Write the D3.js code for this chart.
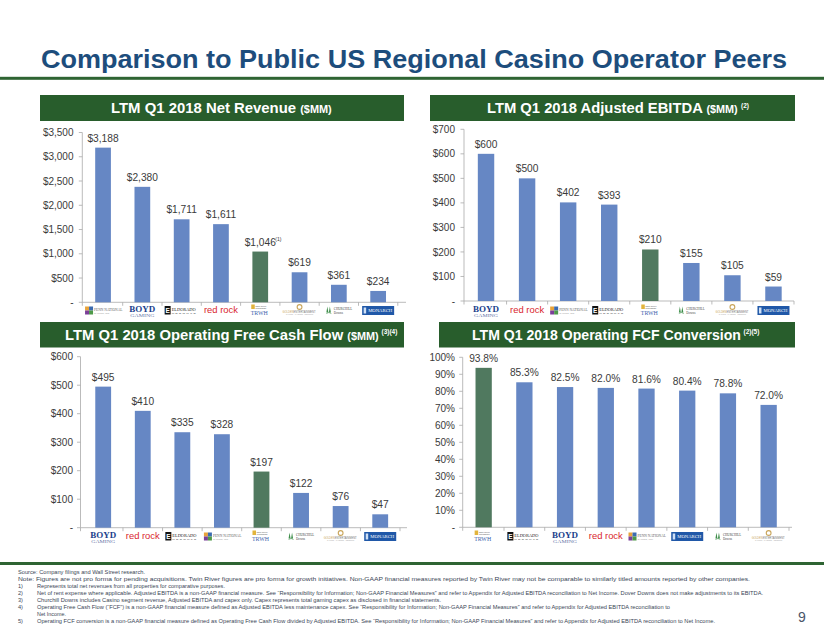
<!DOCTYPE html>
<html><head><meta charset="utf-8">
<script src="https://cdn.jsdelivr.net/npm/d3@7"></script>
<style>
html,body{margin:0;padding:0;background:#fff;}
svg{display:block;font-family:"Liberation Sans",Arial,sans-serif;}
</style></head>
<body>
<svg id="c" width="824" height="637"></svg>
<script>
// ---------- DATA ----------
const revCompanies = ["penn","boyd","eldorado","redrock","trwh","golden","churchill","monarch"];
const revValues    = [3188, 2380, 1711, 1611, 1046, 619, 361, 234];
const revTicks     = [0,500,1000,1500,2000,2500,3000,3500];
const revTickLabels= ["-","$500","$1,000","$1,500","$2,000","$2,500","$3,000","$3,500"];

const ebitdaCompanies = ["boyd","redrock","penn","eldorado","trwh","churchill","golden","monarch"];
const ebitdaValues    = [600, 500, 402, 393, 210, 155, 105, 59];
const ebitdaTicks     = [0,100,200,300,400,500,600,700];
const ebitdaTickLabels= ["-","$100","$200","$300","$400","$500","$600","$700"];

const fcfCompanies = ["boyd","redrock","eldorado","penn","trwh","churchill","golden","monarch"];
const fcfValues    = [495, 410, 335, 328, 197, 122, 76, 47];
const fcfTicks     = [0,100,200,300,400,500,600];
const fcfTickLabels= ["-","$100","$200","$300","$400","$500","$600"];

const convCompanies = ["trwh","eldorado","boyd","redrock","penn","monarch","churchill","golden"];
const convValues    = [93.8, 85.3, 82.5, 82.0, 81.6, 80.4, 78.8, 72.0];
const convTicks     = [0,10,20,30,40,50,60,70,80,90,100];
const convTickLabels= ["-","10%","20%","30%","40%","50%","60%","70%","80%","90%","100%"];

const footnotes = [
 ["", "Source: Company filings and Wall Street research."],
 ["", "Note: Figures are not pro forma for pending acquisitions. Twin River figures are pro forma for growth initiatives. Non-GAAP financial measures reported by Twin River may not be comparable to similarly titled amounts reported by other companies."],
 ["1)", "Represents total net revenues from all properties for comparative purposes."],
 ["2)", "Net of rent expense where applicable. Adjusted EBITDA is a non-GAAP financial measure. See \u201cResponsibility for Information; Non-GAAP Financial Measures\u201d and refer to Appendix for Adjusted EBITDA reconciliation to Net Income. Dover Downs does not make adjustments to its EBITDA."],
 ["3)", "Churchill Downs includes Casino segment revenue, Adjusted EBITDA and capex only. Capex represents total gaming capex as disclosed in financial statements."],
 ["4)", "Operating Free Cash Flow (\u201cFCF\u201d)   is a non-GAAP financial measure defined as Adjusted EBITDA less maintenance capex. See \u201cResponsibility for Information; Non-GAAP Financial Measures\u201d and refer to Appendix for Adjusted EBITDA reconciliation to"],
 ["", "Net Income."],
 ["5)", "Operating FCF conversion is a non-GAAP financial measure defined as Operating Free Cash Flow divided by Adjusted EBITDA. See \u201cResponsibility for Information; Non-GAAP Financial Measures\u201d and refer to Appendix for Adjusted EBITDA reconciliation to Net Income."]
];
const footnoteEnds = [145, 750, 225, 763, 441, 670, 66, 715];

// ---------- STYLE ----------
const BLUE = "#6687C4", GREEN_BAR = "#50795F", HEAD = "#285D2C", TITLE = "#1D4D7C", AXIS = "#A9A9A9", TXT = "#3a3a3a";

const svg = d3.select("#c");

// Title
svg.append("text").attr("x", 41).attr("y", 68)
  .attr("font-size", 25.5).attr("font-weight", "bold").attr("fill", TITLE)
  .attr("textLength", 746).attr("lengthAdjust", "spacingAndGlyphs")
  .text("Comparison to Public US Regional Casino Operator Peers");
svg.append("rect").attr("x", 0).attr("y", 76.8).attr("width", 824).attr("height", 3).attr("fill", "#2E6433");
svg.append("rect").attr("x", 0).attr("y", 562).attr("width", 824).attr("height", 3).attr("fill", "#2E6433");

// Headers (text scaled horizontally to the reference width)
function header(x, y, w, h, parts, tx, tlen, sup) {
  svg.append("rect").attr("x", x).attr("y", y).attr("width", w).attr("height", h).attr("fill", HEAD);
  const g = svg.append("g");
  const t = g.append("text").attr("x", 0).attr("y", 0).attr("fill", "#fff").attr("font-weight", "bold");
  parts.forEach(p => t.append("tspan").attr("font-size", p.size).text(p.t));
  const nat = t.node().getComputedTextLength();
  const k = tlen / nat;
  g.attr("transform", `translate(${tx},${y + h/2 + 5}) scale(${k},1)`);
  if (sup) svg.append("text").attr("x", sup.x).attr("y", y + h/2 - 0.5).attr("fill", "#fff")
    .attr("font-weight", "bold").attr("font-size", 6.5).text(sup.t);
}
header(40, 95, 364, 26, [{t:"LTM Q1 2018 Net Revenue ",size:15},{t:"($MM)",size:11}], 111, 221);
header(430, 95, 365, 26, [{t:"LTM Q1 2018 Adjusted EBITDA ",size:15},{t:"($MM)",size:11}], 487, 251, {x:741, t:"(2)"});
header(40, 322, 364, 25.5, [{t:"LTM Q1 2018 Operating Free Cash Flow ",size:15},{t:"($MM)",size:11}], 65, 314, {x:381.5, t:"(3)(4)"});
header(439, 322, 356, 25.5, [{t:"LTM Q1 2018 Operating FCF Conversion",size:15}], 472, 269, {x:743.5, t:"(2)(5)"});

// Logos (x-axis category labels)
function drawLogo(g, key) {
  const S = "Liberation Serif,Times New Roman,serif";
  if (key === "penn") {
    const cols = ["#E8A33A","#3B6BB0","#7B3F98","#4E9A48"];
    [[0,0],[1,0],[0,1],[1,1]].forEach((c,i)=>g.append("rect").attr("x",-18+c[0]*4).attr("y",-4+c[1]*4).attr("width",4).attr("height",4).attr("fill",cols[i]));
    g.append("text").attr("x",-9).attr("y",0.5).attr("font-size",3.6).attr("fill","#666").attr("font-family",S).text("PENN NATIONAL");
    g.append("text").attr("x",-9).attr("y",3.8).attr("font-size",2.4).attr("fill","#999").text("GAMING, INC.");
  } else if (key === "boyd") {
    g.append("text").attr("x",0).attr("y",1).attr("text-anchor","middle").attr("font-size",9).attr("font-weight","bold").attr("font-family",S).attr("fill","#213F8C").attr("textLength",26).attr("lengthAdjust","spacingAndGlyphs").text("BOYD");
    g.append("text").attr("x",0).attr("y",6.2).attr("text-anchor","middle").attr("font-size",4.6).attr("font-family",S).attr("fill","#6675A8").attr("textLength",24).attr("lengthAdjust","spacingAndGlyphs").text("GAMING");
  } else if (key === "eldorado") {
    g.append("rect").attr("x",-17).attr("y",-4.5).attr("width",6).attr("height",8.5).attr("fill","#111");
    g.append("text").attr("x",-14).attr("y",2.6).attr("text-anchor","middle").attr("font-size",6.5).attr("font-weight","bold").attr("fill","#fff").text("E");
    g.append("text").attr("x",-10).attr("y",0.4).attr("font-size",4.3).attr("font-family",S).attr("fill","#222").attr("textLength",24).attr("lengthAdjust","spacingAndGlyphs").text("ELDORADO");
    g.append("text").attr("x",-10).attr("y",3.8).attr("font-size",2.4).attr("fill","#666").attr("textLength",24).attr("lengthAdjust","spacingAndGlyphs").text("R E S O R T S");
  } else if (key === "redrock") {
    g.append("text").attr("x",0).attr("y",2.8).attr("text-anchor","middle").attr("font-size",9.5).attr("fill","#D9262E").attr("textLength",34).attr("lengthAdjust","spacingAndGlyphs").text("red rock");
  } else if (key === "trwh") {
    g.append("rect").attr("x",-9).attr("y",-6).attr("width",3.5).attr("height",4.5).attr("fill","#E2B43C");
    g.append("text").attr("x",-5).attr("y",-4).attr("font-size",2.4).attr("fill","#555").text("Twin River");
    g.append("text").attr("x",-5).attr("y",-1.6).attr("font-size",2.4).attr("fill","#555").text("Worldwide");
    g.append("text").attr("x",-1).attr("y",4.6).attr("text-anchor","middle").attr("font-size",6.2).attr("font-family",S).attr("fill","#3A62AC").attr("textLength",17).attr("lengthAdjust","spacingAndGlyphs").text("TRWH");
  } else if (key === "golden") {
    g.append("circle").attr("cx",0).attr("cy",-3.5).attr("r",2.4).attr("fill","none").attr("stroke","#C9A55A").attr("stroke-width",1.1);
    g.append("text").attr("x",-17).attr("y",2.2).attr("font-size",2.6).attr("fill","#C9A55A").text("GOLDEN");
    g.append("text").attr("x",-6).attr("y",2.2).attr("font-size",2.8).attr("fill","#777").attr("textLength",22).attr("lengthAdjust","spacingAndGlyphs").text("ENTERTAINMENT");
    g.append("text").attr("x",0).attr("y",4.8).attr("text-anchor","middle").attr("font-size",1.8).attr("fill","#aaa").text("GAMING · TAVERNS · RESORTS");
  } else if (key === "churchill") {
    [-11.5,-9].forEach(x=>g.append("path").attr("d",`M${x},-4 L${x+1},2 L${x-1},2 Z`).attr("fill","#3E8E4A"));
    g.append("path").attr("d","M-12.5,3 Q-10,1 -7.5,3").attr("stroke","#3E8E4A").attr("fill","none").attr("stroke-width",0.6);
    g.append("text").attr("x",-5).attr("y",-0.8).attr("font-size",3.2).attr("font-family",S).attr("fill","#444").text("CHURCHILL");
    g.append("text").attr("x",-5).attr("y",3.2).attr("font-size",3.2).attr("font-family",S).attr("fill","#444").text("Downs");
  } else if (key === "monarch") {
    g.append("rect").attr("x",-16).attr("y",-4.5).attr("width",32).attr("height",9).attr("fill","#2058A8");
    g.append("rect").attr("x",-14.5).attr("y",-3).attr("width",2.5).attr("height",6).attr("fill","#cfe0f5");
    g.append("text").attr("x",2).attr("y",1.6).attr("text-anchor","middle").attr("font-size",5).attr("font-family",S).attr("fill","#fff").attr("textLength",24).attr("lengthAdjust","spacingAndGlyphs").text("MONARCH");
  }
}

// Panels
function panel(cfg) {
  const x = d3.scaleBand().domain(cfg.cats.map((d,i)=>i)).range(cfg.xr).paddingInner(0.6).paddingOuter(0.3);
  const y = d3.scaleLinear().domain([0, cfg.max]).range([cfg.y0, cfg.yTop]);
  const g = svg.append("g");
  g.append("line").attr("x1",cfg.ax).attr("x2",cfg.ax).attr("y1",y(0)).attr("y2",y(cfg.max)).attr("stroke",AXIS).attr("stroke-width",0.8);
  cfg.ticks.forEach((t,i)=>{
    g.append("line").attr("x1",cfg.ax-3.5).attr("x2",cfg.ax).attr("y1",y(t)).attr("y2",y(t)).attr("stroke",AXIS).attr("stroke-width",0.8);
    g.append("text").attr("x",cfg.lx).attr("y",y(t)+3.6).attr("text-anchor","end").attr("font-size",10).attr("fill",TXT).text(cfg.tickLabels[i]);
  });
  g.append("line").attr("x1",cfg.ax).attr("x2",cfg.axEnd).attr("y1",y(0)).attr("y2",y(0)).attr("stroke",AXIS).attr("stroke-width",0.8);
  const step = x.step(), x0 = cfg.xr[0];
  d3.range(cfg.cats.length+1).forEach(i=>{
    const xx = i===0 ? cfg.ax : x0 + i*step;
    g.append("line").attr("x1",xx).attr("x2",xx).attr("y1",y(0)).attr("y2",y(0)+3.5).attr("stroke",AXIS).attr("stroke-width",0.8);
  });
  g.selectAll("rect.bar").data(cfg.vals).join("rect").attr("class","bar")
    .attr("x",(d,i)=>x(i)).attr("width",x.bandwidth())
    .attr("y",d=>y(d)).attr("height",d=>y(0)-y(d))
    .attr("fill",(d,i)=>cfg.cats[i]==="trwh"?GREEN_BAR:BLUE);
  g.selectAll("text.val").data(cfg.vals).join("text").attr("class","val")
    .attr("x",(d,i)=>x(i)+x.bandwidth()/2).attr("y",d=>y(d)-6)
    .attr("text-anchor","middle").attr("font-size",10.2).attr("fill",TXT)
    .text(d=>cfg.fmt(d));
  if (cfg.note) {
    const i = cfg.note.idx, d = cfg.vals[i];
    g.append("text").attr("x",x(i)+x.bandwidth()/2+15).attr("y",y(d)-11).attr("font-size",5).attr("fill",TXT).text(cfg.note.t);
  }
  cfg.cats.forEach((c,i)=>{
    const lg = g.append("g").attr("transform",`translate(${x(i)+x.bandwidth()/2},${cfg.logoY})`);
    drawLogo(lg, c);
  });
}
const dollar = d => "$" + d3.format(",")(d);
panel({cats:revCompanies, vals:revValues, ticks:revTicks, tickLabels:revTickLabels, max:3500, xr:[83.4,397.8], ax:82.3, axEnd:406, y0:302.3, yTop:132.5, lx:73.5, logoY:310.5, fmt:dollar, note:{idx:4,t:"(1)"}});
panel({cats:ebitdaCompanies, vals:ebitdaValues, ticks:ebitdaTicks, tickLabels:ebitdaTickLabels, max:700, xr:[465.5,794], ax:464, axEnd:794, y0:301, yTop:129.3, lx:455, logoY:310.5, fmt:dollar});
panel({cats:fcfCompanies, vals:fcfValues, ticks:fcfTicks, tickLabels:fcfTickLabels, max:600, xr:[83.4,400], ax:80.5, axEnd:407, y0:527.7, yTop:356.7, lx:73, logoY:536.5, fmt:dollar});
panel({cats:convCompanies, vals:convValues, ticks:convTicks, tickLabels:convTickLabels, max:100, xr:[463.3,789], ax:462.7, axEnd:792, y0:527.3, yTop:357.3, lx:455, logoY:536.5, fmt:d=>d3.format(".1f")(d)+"%"});

// Footnotes
const fy0 = 574, fdy = 6.95;
footnotes.forEach((f,i)=>{
  const yy = fy0 + i*fdy;
  if (f[0]) svg.append("text").attr("x",18).attr("y",yy).attr("font-size",5.6).attr("fill","#3b4656").text(f[0]);
  const x0 = (f[0] || i===6) ? 37 : 18;
  svg.append("text").attr("x",x0).attr("y",yy).attr("font-size",5.6).attr("fill","#3b4656")
    .attr("textLength",footnoteEnds[i]-x0).attr("lengthAdjust","spacingAndGlyphs").text(f[1]);
});
svg.append("text").attr("x",802).attr("y",622).attr("text-anchor","middle").attr("font-size",14).attr("fill","#4a5568").text("9");
</script>
</body></html>
